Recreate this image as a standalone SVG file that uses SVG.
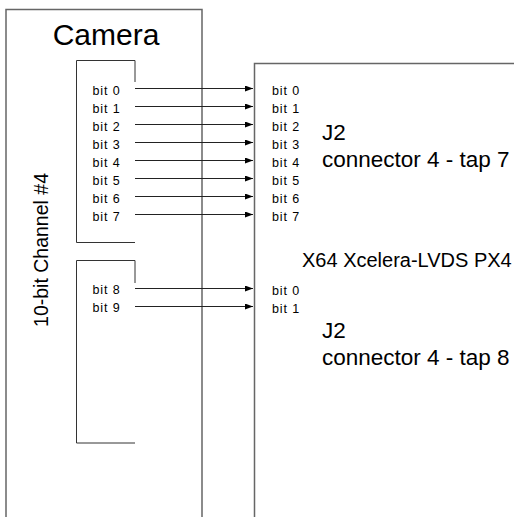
<svg xmlns="http://www.w3.org/2000/svg" width="514" height="517" viewBox="0 0 514 517">
<defs>
<marker id="ah" markerWidth="8" markerHeight="6" refX="8" refY="3" orient="auto" markerUnits="userSpaceOnUse">
<path d="M0,0 L8,3 L0,6 Z" fill="#000"/>
</marker>
<style>
text{font-family:"Liberation Sans",Arial,sans-serif;fill:#000}
.edge{fill:none;stroke:#666;stroke-width:1.5}
.box{fill:#fff;stroke:#333;stroke-width:1}
.bit{font-size:12.5px;letter-spacing:0.9px}
.big{font-size:22.5px}
.arr{stroke:#222;stroke-width:1;marker-end:url(#ah)}
</style>
</defs>
<rect width="514" height="517" fill="#fff"/>
<g id="camera">
<path class="edge" d="M6,517 V9.5 H202 V517"/>
<text x="106" y="45" font-size="30" text-anchor="middle">Camera</text>
<text transform="translate(47.5,250) rotate(-90)" font-size="19.5" text-anchor="middle">10-bit Channel #4</text>
</g>
<g id="board">
<path class="edge" d="M514,63.5 H254.5 V517"/>
<text x="302" y="267" font-size="20">X64 Xcelera-LVDS PX4</text>
</g>
<g id="tap7-out">
<path class="box" d="M135,82 V60.5 H76.5 V242.5 H135"/>
<g class="bit">
<text x="92.5" y="94.5">bit 0</text><text x="92.5" y="112.5">bit 1</text><text x="92.5" y="130.5">bit 2</text><text x="92.5" y="148.5">bit 3</text><text x="92.5" y="166.5">bit 4</text><text x="92.5" y="184.5">bit 5</text><text x="92.5" y="202.5">bit 6</text><text x="92.5" y="220.5">bit 7</text>
</g>
</g>
<g id="tap8-out">
<path class="box" d="M135,283 V260.5 H76.5 V443 H135"/>
<g class="bit"><text x="92.5" y="294">bit 8</text><text x="92.5" y="312">bit 9</text></g>
</g>
<g id="tap7-in">
<g class="bit">
<text x="272" y="95">bit 0</text><text x="272" y="113">bit 1</text><text x="272" y="131">bit 2</text><text x="272" y="149">bit 3</text><text x="272" y="167">bit 4</text><text x="272" y="185">bit 5</text><text x="272" y="203">bit 6</text><text x="272" y="221">bit 7</text>
</g>
<text class="big" x="322" y="140">J2</text>
<text class="big" x="322" y="166.5">connector 4 - tap 7</text>
</g>
<g id="tap8-in">
<g class="bit"><text x="272" y="295">bit 0</text><text x="272" y="313">bit 1</text></g>
<text class="big" x="322" y="338">J2</text>
<text class="big" x="322" y="364.5">connector 4 - tap 8</text>
</g>
<g id="connectors">
<line class="arr" x1="135" y1="88.5" x2="253" y2="88.5"/>
<line class="arr" x1="135" y1="106.5" x2="253" y2="106.5"/>
<line class="arr" x1="135" y1="124.5" x2="253" y2="124.5"/>
<line class="arr" x1="135" y1="142.5" x2="253" y2="142.5"/>
<line class="arr" x1="135" y1="160.5" x2="253" y2="160.5"/>
<line class="arr" x1="135" y1="178.5" x2="253" y2="178.5"/>
<line class="arr" x1="135" y1="196.5" x2="253" y2="196.5"/>
<line class="arr" x1="135" y1="214.5" x2="253" y2="214.5"/>
<line class="arr" x1="135" y1="288.5" x2="253" y2="288.5"/>
<line class="arr" x1="135" y1="306.5" x2="253" y2="306.5"/>
</g>
</svg>
